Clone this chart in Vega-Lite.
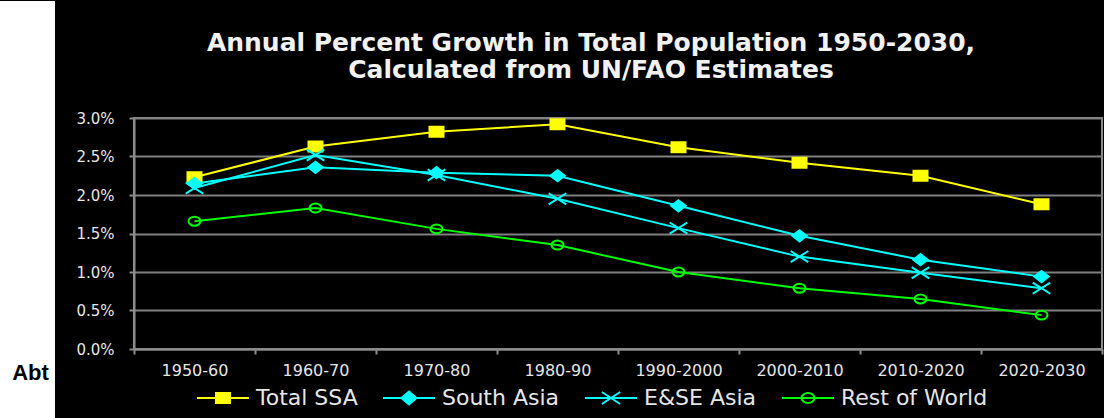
{
  "$schema": "https://vega.github.io/schema/vega-lite/v6.json",
  "background": "black",
  "padding": 0,
  "spacing": 0,
  "config": {
    "font": "DejaVu Sans",
    "axis": {"labelColor": "#e6e6e6", "domainColor": "#8c8c8c", "tickColor": "#8c8c8c", "gridColor": "#808080"}
  },
  "resolve": {
    "scale": {"y": "independent", "x": "independent", "stroke": "independent", "fill": "independent", "shape": "independent"},
    "legend": {"stroke": "independent", "fill": "independent", "shape": "independent"}
  },
  "hconcat": [
    {
      "width": 55,
      "height": 300,
      "view": {"stroke": null},
      "data": {"values": [{"label": "Abt"}]},
      "layer": [
        {
          "mark": {"type": "rect", "color": "white"},
          "encoding": {
            "y": {"datum": 0, "type": "quantitative", "scale": {"domain": [0, 1]}, "axis": null},
            "y2": {"datum": 1.39}
          }
        },
        {
          "mark": {"type": "text", "font": "Liberation Sans", "fontWeight": "bold", "fontSize": 22, "color": "black", "align": "center", "baseline": "middle", "dx": 3},
          "encoding": {
            "text": {"field": "label", "type": "nominal"},
            "y": {"datum": 0.15, "type": "quantitative", "scale": {"domain": [0, 1]}, "axis": null}
          }
        }
      ]
    },
    {
      "width": 968,
      "height": 231,
      "view": {"stroke": "#8c8c8c", "strokeWidth": 2},
      "title": {
        "text": " ",
        "fontSize": 26,
        "subtitle": ["Annual Percent Growth in Total Population 1950-2030,", "Calculated from UN/FAO Estimates"],
        "subtitleFont": "DejaVu Sans",
        "subtitleFontSize": 25,
        "subtitleFontWeight": "bold",
        "subtitleColor": "#f2f2f2",
        "subtitleLineHeight": 27,
        "subtitlePadding": 4,
        "anchor": "middle",
        "frame": "group",
        "dx": -27,
        "offset": 28
      },
      "data": {
        "values": [
          {"period": "1950-60", "series": "Total SSA", "growth": 0.0223},
          {"period": "1960-70", "series": "Total SSA", "growth": 0.0263},
          {"period": "1970-80", "series": "Total SSA", "growth": 0.0282},
          {"period": "1980-90", "series": "Total SSA", "growth": 0.0292},
          {"period": "1990-2000", "series": "Total SSA", "growth": 0.0262},
          {"period": "2000-2010", "series": "Total SSA", "growth": 0.0242},
          {"period": "2010-2020", "series": "Total SSA", "growth": 0.0225},
          {"period": "2020-2030", "series": "Total SSA", "growth": 0.0188},
          {"period": "1950-60", "series": "South Asia", "growth": 0.0215},
          {"period": "1960-70", "series": "South Asia", "growth": 0.0236},
          {"period": "1970-80", "series": "South Asia", "growth": 0.0229},
          {"period": "1980-90", "series": "South Asia", "growth": 0.0225},
          {"period": "1990-2000", "series": "South Asia", "growth": 0.0186},
          {"period": "2000-2010", "series": "South Asia", "growth": 0.0147},
          {"period": "2010-2020", "series": "South Asia", "growth": 0.0116},
          {"period": "2020-2030", "series": "South Asia", "growth": 0.0094},
          {"period": "1950-60", "series": "E&SE Asia", "growth": 0.0209},
          {"period": "1960-70", "series": "E&SE Asia", "growth": 0.0252},
          {"period": "1970-80", "series": "E&SE Asia", "growth": 0.0226},
          {"period": "1980-90", "series": "E&SE Asia", "growth": 0.0195},
          {"period": "1990-2000", "series": "E&SE Asia", "growth": 0.0157},
          {"period": "2000-2010", "series": "E&SE Asia", "growth": 0.0120},
          {"period": "2010-2020", "series": "E&SE Asia", "growth": 0.0099},
          {"period": "2020-2030", "series": "E&SE Asia", "growth": 0.0079},
          {"period": "1950-60", "series": "Rest of World", "growth": 0.0166},
          {"period": "1960-70", "series": "Rest of World", "growth": 0.0183},
          {"period": "1970-80", "series": "Rest of World", "growth": 0.0156},
          {"period": "1980-90", "series": "Rest of World", "growth": 0.0135},
          {"period": "1990-2000", "series": "Rest of World", "growth": 0.0100},
          {"period": "2000-2010", "series": "Rest of World", "growth": 0.0079},
          {"period": "2010-2020", "series": "Rest of World", "growth": 0.0065},
          {"period": "2020-2030", "series": "Rest of World", "growth": 0.0044}
        ]
      },
      "encoding": {
        "x": {
          "field": "period",
          "type": "nominal",
          "sort": null,
          "scale": {"type": "band", "paddingInner": 0, "paddingOuter": 0},
          "axis": {"title": null, "labelAngle": 0, "labelFontSize": 16, "labelPadding": 8, "tickSize": 5, "tickWidth": 2, "tickBand": "extent", "domainWidth": 2, "grid": false}
        },
        "y": {
          "field": "growth",
          "type": "quantitative",
          "scale": {"domain": [0, 0.03], "nice": false},
          "axis": {"title": null, "format": ".1%", "values": [0, 0.005, 0.01, 0.015, 0.02, 0.025, 0.03], "labelFontSize": 15, "labelPadding": 15, "tickSize": 5, "tickWidth": 2, "domainWidth": 2, "grid": true, "gridWidth": 2, "minExtent": 78, "maxExtent": 78}
        }
      },
      "layer": [
        {
          "mark": {"type": "line", "strokeWidth": 2},
          "encoding": {
            "stroke": {
              "field": "series",
              "type": "nominal",
              "sort": null,
              "scale": {"domain": ["Total SSA", "South Asia", "E&SE Asia", "Rest of World"], "range": ["#ffff00", "#00ffff", "#00ffff", "#00ff00"]}
            }
          }
        },
        {
          "transform": [{"filter": "datum.series === 'Total SSA'"}],
          "mark": {"type": "point", "shape": "M-0.875,-0.625H0.875V0.625H-0.875Z", "size": 256, "strokeWidth": 2, "opacity": 1, "fill": "#ffff00", "stroke": "#ffff00"},
          "encoding": {}
        },
        {
          "transform": [{"filter": "datum.series === 'South Asia'"}],
          "mark": {"type": "point", "shape": "M0,-0.7L0.9,0L0,0.7L-0.9,0Z", "size": 256, "strokeWidth": 2, "opacity": 1, "fill": "#00ffff", "stroke": "#00ffff"},
          "encoding": {}
        },
        {
          "transform": [{"filter": "datum.series === 'E&SE Asia'"}],
          "mark": {"type": "point", "shape": "M-1.1,-0.7L1.1,0.7M-1.1,0.7L1.1,-0.7", "size": 256, "strokeWidth": 2, "opacity": 1, "fill": "transparent", "stroke": "#00ffff"},
          "encoding": {}
        },
        {
          "transform": [{"filter": "datum.series === 'Rest of World'"}],
          "mark": {"type": "point", "shape": "M-0.75,0A0.75,0.56 0 1,0 0.75,0A0.75,0.56 0 1,0 -0.75,0Z", "size": 256, "strokeWidth": 2, "opacity": 1, "fill": "transparent", "stroke": "#00ff00"},
          "encoding": {}
        },
        {
          "mark": {"type": "point", "strokeWidth": 2, "opacity": 0, "size": 2704},
          "encoding": {
            "stroke": {
              "field": "series",
              "type": "nominal",
              "sort": null,
              "scale": {"domain": ["Total SSA", "South Asia", "E&SE Asia", "Rest of World"], "range": ["#ffff00", "#00ffff", "#00ffff", "#00ff00"]},
              "legend": {
                "orient": "none",
                "legendX": 62,
                "legendY": 253,
                "direction": "horizontal",
                "title": null,
                "padding": 0,
                "labelFont": "DejaVu Sans",
                "labelFontSize": 22,
                "labelColor": "#e6e6e6",
                "labelOffset": 6,
                "labelLimit": 300,
                "columnPadding": 21,
                "symbolSize": 2704,
                "symbolStrokeWidth": 2,
                "symbolOpacity": 1
              }
            },
            "fill": {
              "field": "series",
              "type": "nominal",
              "sort": null,
              "scale": {"domain": ["Total SSA", "South Asia", "E&SE Asia", "Rest of World"], "range": ["#ffff00", "#00ffff", "transparent", "transparent"]}
            },
            "shape": {
              "field": "series",
              "type": "nominal",
              "sort": null,
              "scale": {"domain": ["Total SSA", "South Asia", "E&SE Asia", "Rest of World"], "range": ["M-1,0H1M-0.27,-0.19H0.27V0.19H-0.27Z", "M-1,0H1M0,-0.25L0.29,0L0,0.25L-0.29,0Z", "M-1,0H1M-0.35,-0.23L0.35,0.23M-0.35,0.23L0.35,-0.23", "M-1,0H1M-0.25,0A0.25,0.19 0 1,0 0.25,0A0.25,0.19 0 1,0 -0.25,0Z"]}
            }
          }
        }
      ]
    }
  ]
}
